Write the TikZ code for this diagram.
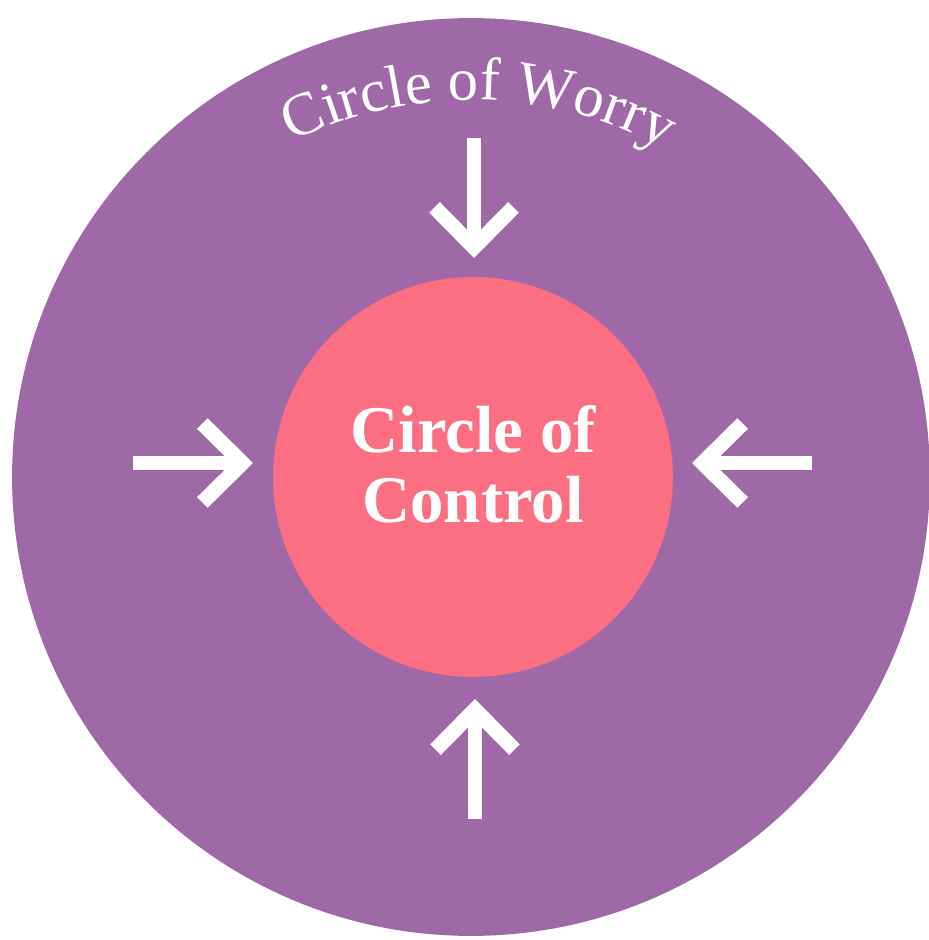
\documentclass[tikz,border=0pt]{standalone}
\usepackage{fontspec}
\setmainfont{Liberation Serif}
\usetikzlibrary{arrows.meta,decorations.text}
\definecolor{worrypurple}{RGB}{159,105,167}
\definecolor{controlpink}{RGB}{252,110,130}
\newcommand{\worryfont}{\fontsize{34.5pt}{38pt}\selectfont\color{white}}
\tikzset{
  worry/.style={
    circle,
    fill=worrypurple,
    inner sep=0pt,
    minimum size=18.36cm
  },
  control/.style={
    circle,
    fill=controlpink,
    inner sep=0pt,
    minimum size=8cm
  },
  ctrltext/.style={
    align=center,
    text=white,
    font=\fontsize{38pt}{39.7pt}\selectfont\bfseries
  },
  push/.style={
    -{Straight Barb[sharp,length=0.8cm,width=1.58cm]},
    line width=0.3cm,
    white
  }
}

\begin{document}
\begin{tikzpicture}[x=0.02cm,y=0.02cm]
\useasboundingbox (-471,-463) rectangle (458,477);
\node[worry] (w) at (0,0) {};
\node[control] (c) at (2,0) {};
\node[ctrltext] (t) at (2,13) {Circle of\\Control};
\path[decorate,decoration={text along path,text align=center,
  text={|\worryfont|Circle of Worry}}]
  (1,-28) ++(150:405) arc[start angle=150,end angle=28,radius=405];
% arrows into the circle of control
\coordinate (nt) at (3,339);
\coordinate (nh) at (3,219);
\coordinate (st) at (4,-342);
\coordinate (sh) at (4,-222);
\coordinate (wt) at (-338,14);
\coordinate (wh) at (-218,14);
\coordinate (et) at (341,14);
\coordinate (eh) at (221,14);
\draw[push] (nt) -- (nh);
\draw[push] (st) -- (sh);
\draw[push] (wt) -- (wh);
\draw[push] (et) -- (eh);
\end{tikzpicture}
\end{document}
